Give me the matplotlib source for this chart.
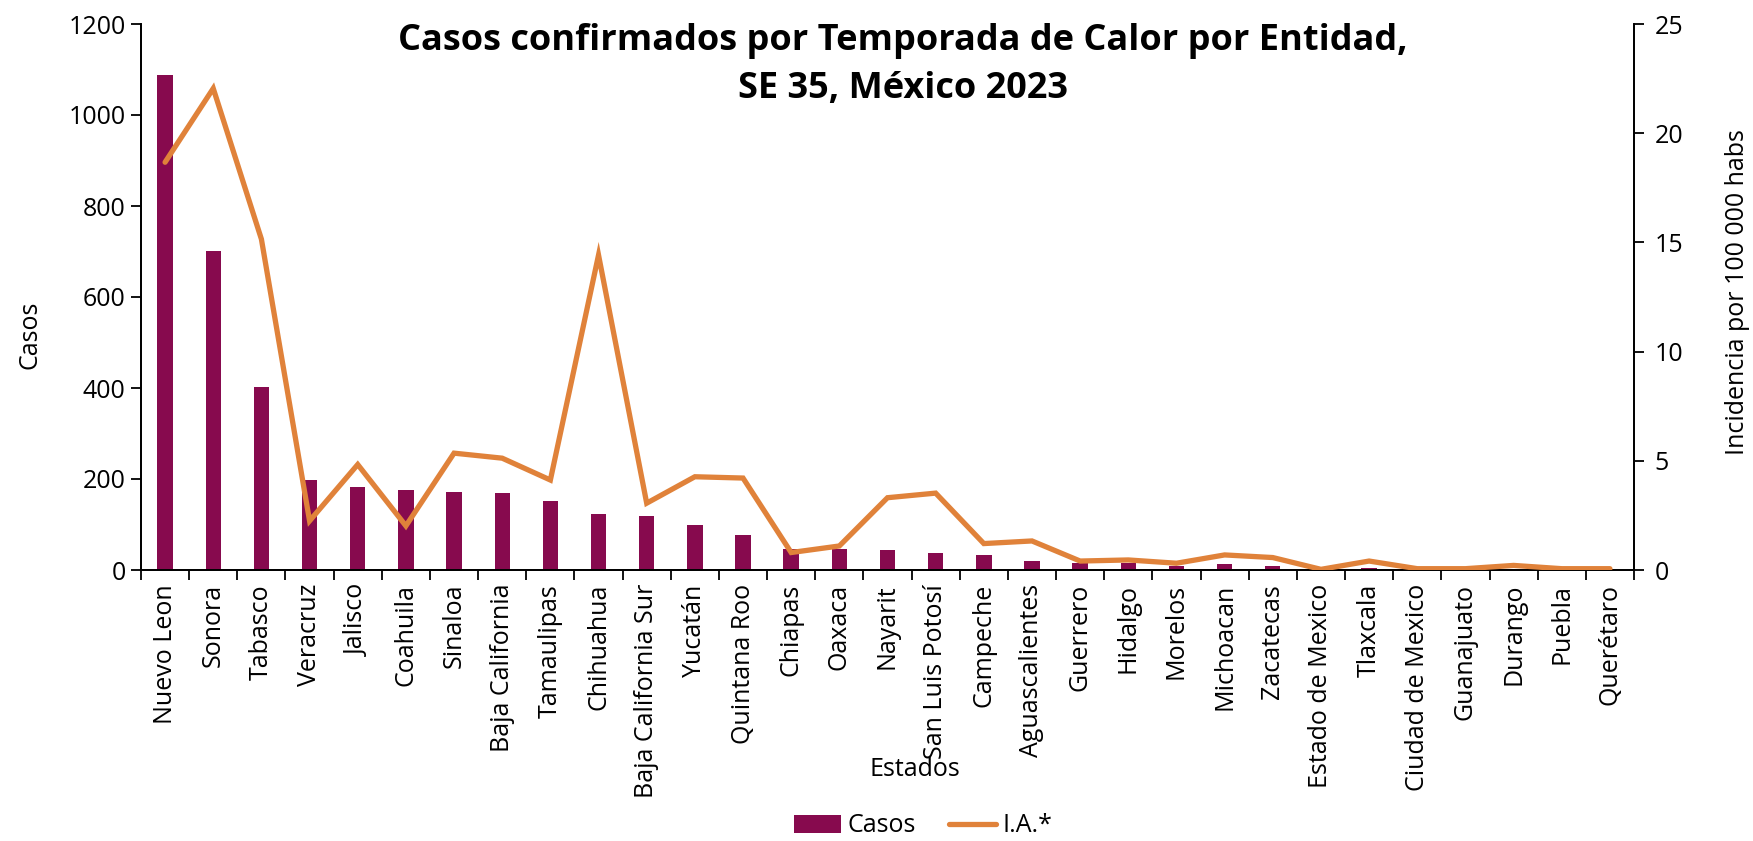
import matplotlib
matplotlib.use("Agg")
import matplotlib.pyplot as plt
import numpy as np
from matplotlib.patches import Patch
from matplotlib.lines import Line2D

plt.rcParams['font.family'] = ['Open Sans', 'DejaVu Sans']

estados = ["Nuevo Leon", "Sonora", "Tabasco", "Veracruz", "Jalisco", "Coahuila",
           "Sinaloa", "Baja California", "Tamaulipas", "Chihuahua",
           "Baja California Sur", "Yucatán", "Quintana Roo", "Chiapas", "Oaxaca",
           "Nayarit", "San Luis Potosí", "Campeche", "Aguascalientes", "Guerrero",
           "Hidalgo", "Morelos", "Michoacan", "Zacatecas", "Estado de Mexico",
           "Tlaxcala", "Ciudad de Mexico", "Guanajuato", "Durango", "Puebla",
           "Querétaro"]
casos = [1089, 701, 402, 198, 182, 176, 172, 169, 152, 123, 118, 99, 77, 46, 46,
         43, 37, 34, 19, 16, 15, 9, 13, 8, 1, 5, 1, 1, 3, 1, 1]
incidencia = [18.67, 22.05, 15.15, 2.25, 4.83, 2.02, 5.35, 5.12, 4.12, 14.42,
              3.06, 4.27, 4.21, 0.80, 1.10, 3.31, 3.52, 1.21, 1.33, 0.41, 0.46,
              0.31, 0.69, 0.57, 0.03, 0.41, 0.06, 0.06, 0.21, 0.06, 0.06]

bar_color = "#870A4E"
line_color = "#E0823A"
FS = 18

W, H = 1753, 841
fig = plt.figure(figsize=(W / 100, H / 100), dpi=100)
ax = fig.add_axes([141 / W, 1 - 570 / H, (1634 - 141) / W, (570 - 24) / H])
ax2 = ax.twinx()

x = np.arange(len(estados))
ax.bar(x, casos, width=0.32, color=bar_color, zorder=2)
ax2.plot(x, incidencia, color=line_color, lw=3.8, solid_joinstyle="miter",
         solid_capstyle="round", zorder=3)

ax.set_xlim(-0.5, len(estados) - 0.5)
ax.set_ylim(0, 1200)
ax.set_yticks(np.arange(0, 1201, 200))
ax2.set_ylim(0, 25)
ax2.set_yticks(np.arange(0, 26, 5))

ax.set_xticks(x)
ax.set_xticklabels(estados, rotation=90, fontsize=FS)
ax.set_xticks(np.arange(-0.5, len(estados), 1), minor=True)
ax.tick_params(axis="x", which="major", length=0, pad=10)
ax.tick_params(axis="x", which="minor", length=7, width=1.3)
ax.tick_params(axis="y", labelsize=FS, length=7, width=1.3, pad=4)
ax2.tick_params(axis="y", labelsize=FS, length=7, width=1.3, pad=8)

for a in (ax, ax2):
    a.spines["top"].set_visible(False)
    for s in ("left", "right", "bottom"):
        a.spines[s].set_linewidth(1.3)

fig.text(30 / W, 1 - 335 / H, "Casos", fontsize=FS, rotation=90,
         ha="center", va="center")
fig.text(1737 / W, 1 - 292 / H, "Incidencia por 100 000 habs", fontsize=FS,
         rotation=90, ha="center", va="center")
fig.text(915 / W, 1 - 769 / H, "Estados", fontsize=FS, ha="center", va="center")

fig.text(903 / W, 1 - 65 / H,
         "Casos confirmados por Temporada de Calor por Entidad,\nSE 35, México 2023",
         fontsize=26, fontweight="bold", ha="center", va="center", linespacing=1.42)

handles = [Patch(facecolor=bar_color, label="Casos"),
           Line2D([0], [0], color=line_color, lw=3.8, solid_capstyle="round", label="I.A.*")]
fig.legend(handles=handles, loc="center", bbox_to_anchor=(923 / W, 1 - 826 / H),
           ncol=2, frameon=False, fontsize=FS, handlelength=1.9, handleheight=0.7,
           columnspacing=1.3, handletextpad=0.25, borderpad=0)

fig.savefig("out.png", dpi=100)
